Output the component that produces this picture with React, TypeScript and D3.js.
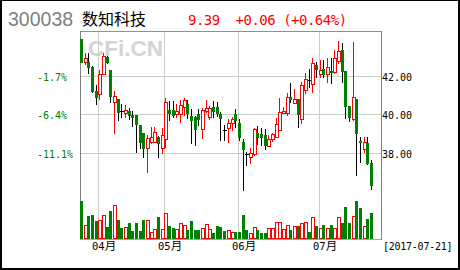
import React from 'react';
import * as d3 from 'd3';

// ---- data ----
const dates = [
  '03-27','03-28','03-29','03-30','03-31',
  '04-05','04-06','04-07','04-10','04-11','04-12','04-13','04-14','04-17','04-18','04-19','04-20','04-21','04-24','04-25','04-26','04-27','04-28',
  '05-02','05-03','05-04','05-05','05-08','05-09','05-10','05-11','05-12','05-15','05-16','05-17','05-18','05-19','05-22','05-23','05-24','05-25','05-26','05-31',
  '06-01','06-02','06-05','06-06','06-07','06-08','06-09','06-12','06-13','06-14','06-15','06-16','06-19','06-20','06-21','06-22','06-23','06-26','06-27','06-28','06-29','06-30',
  '07-03','07-04','07-05','07-06','07-07','07-10','07-11','07-12','07-13','07-14','07-17','07-18','07-19','07-20','07-21',
];
const opens = [
  43.95,42.73,42.73,42.50,41.22,41.05,42.10,43.02,42.32,40.63,
  40.80,40.19,40.06,40.18,39.97,39.97,39.44,39.01,38.22,38.57,
  38.57,38.83,38.22,38.69,40.23,40.23,40.05,40.02,40.40,40.54,
  39.91,39.85,40.02,39.22,40.18,39.85,40.37,40.37,40.02,39.18,
  39.27,39.53,40.02,39.53,38.54,37.92,37.78,37.92,39.01,38.97,
  38.90,38.36,38.69,38.80,39.18,40.07,40.06,40.93,40.61,40.80,
  39.74,41.28,41.80,41.58,42.59,42.10,42.36,42.12,42.30,42.24,
  42.81,43.37,42.27,40.44,39.74,40.80,38.60,38.17,38.51,37.47,
];
const highs = [
  43.95,43.23,43.20,42.52,41.54,42.32,43.20,43.06,42.32,41.22,
  40.80,40.54,40.49,40.33,40.20,39.97,39.44,39.01,38.90,39.35,
  39.35,38.85,39.27,40.84,40.70,40.70,40.55,40.75,40.84,40.75,
  40.27,39.91,40.27,40.32,40.75,40.44,40.70,40.66,40.14,39.44,
  39.74,39.86,40.28,39.74,38.71,38.04,38.22,39.27,39.39,39.27,
  39.22,38.92,39.04,39.79,40.84,40.40,41.10,41.66,41.31,40.80,
  41.71,42.18,42.36,42.97,42.76,42.85,42.85,42.94,42.94,43.37,
  43.84,43.72,42.27,40.44,43.81,40.80,38.83,38.80,38.80,37.61,
];
const lows = [
  42.73,42.62,42.18,41.20,40.55,40.80,42.10,42.70,40.66,39.01,
  39.70,39.85,39.85,39.75,39.40,38.04,38.22,37.75,37.00,38.50,
  38.57,37.78,37.99,38.30,39.70,39.85,39.86,39.62,39.95,39.80,
  38.51,38.39,39.44,38.75,40.12,39.75,39.85,39.91,38.66,38.66,
  38.57,39.18,39.35,38.66,36.04,37.35,37.47,37.87,38.45,38.39,
  38.17,38.36,38.62,38.80,39.18,40.07,39.97,40.66,40.61,39.35,
  39.53,41.10,41.45,41.19,41.97,41.97,41.97,41.71,41.63,42.15,
  42.68,41.71,39.79,39.67,39.70,36.82,37.52,38.04,37.40,36.07,
];
const closes = [
  42.73,42.95,42.50,41.22,40.93,42.10,43.06,42.73,40.96,40.96,
  40.14,40.19,40.23,39.97,39.88,39.50,38.57,38.22,38.75,38.83,
  39.09,38.48,38.92,40.66,40.09,39.97,40.20,40.49,40.75,40.06,
  39.70,39.23,39.74,40.23,40.33,40.32,40.18,40.09,39.79,39.18,
  39.56,39.74,39.70,38.80,38.18,37.92,37.99,39.22,38.80,38.83,
  38.39,38.69,38.97,39.48,40.11,40.18,40.89,40.80,40.80,40.00,
  41.54,41.84,41.80,42.71,42.36,42.32,42.12,42.47,42.22,42.97,
  43.34,42.27,40.44,39.88,40.89,39.04,38.54,38.57,37.47,36.30,
];
const volumes = [
  380,140,230,240,183,190,240,117,280,340,
  190,107,117,163,83,163,83,190,190,73,
  97,217,97,257,130,107,97,163,140,90,
  180,90,90,113,147,97,63,130,123,80,
  90,67,73,73,240,90,63,117,90,63,
  63,107,107,173,173,97,140,90,130,130,
  163,173,73,223,133,107,140,107,140,107,
  223,163,323,157,233,380,307,130,200,263,
];
const priceTicks = [38, 40, 42];
const stockCode = '300038';
const stockName = '数知科技';
const quoteText = '9.39  +0.06 (+0.64%)';
const lastDateText = '[2017-07-21]';
const watermark = 'CFi.CN';

const RED = '#ff0000';
const GREEN = '#008000';
const MONO = "'DejaVu Sans Mono', 'Liberation Mono', monospace";
const CJK = "'Noto Sans CJK SC', sans-serif";

export default function App() {
  const W = 460, H = 270;
  const left = 80, right = 381, top = 31, bottom = 239;
  const slots = 82;
  const x = d3.scaleLinear().domain([0, slots]).range([left, right]);
  const y = d3.scaleLinear().domain([35.7, 44.4]).range([196.5, 30.5]);
  const v = d3.scaleLinear().domain([0, d3.max(volumes) as number]).range([bottom, 201]);
  const base = closes[0];

  const months: { idx: number; label: string }[] = [];
  dates.forEach((d, i) => {
    if (i > 0 && d.slice(0, 2) !== dates[i - 1].slice(0, 2)) months.push({ idx: i, label: d.slice(0, 2) });
  });

  const candles = dates.map((d, i) => {
    const bx = Math.round(x(i));
    const o = opens[i], c = closes[i];
    const up = c > o, flat = c === o;
    const yt = Math.round(y(Math.max(o, c)));
    const yb = Math.round(y(Math.min(o, c)));
    const yh = Math.round(y(highs[i]));
    const yl = Math.round(y(lows[i]));
    const col = flat ? '#000' : up ? RED : '#000';
    return (
      <g key={d}>
        <line x1={bx + 1.5} x2={bx + 1.5} y1={yh} y2={yl + 1} stroke={col} strokeWidth={1} />
        {flat ? (
          <line x1={bx} x2={bx + 4} y1={yt + 0.5} y2={yt + 0.5} stroke="#000" />
        ) : up ? (
          <rect x={bx + 0.5} y={yt + 0.5} width={3} height={Math.max(1, yb - yt)} fill="#fff" stroke={RED} />
        ) : (
          <rect x={bx} y={yt} width={3} height={Math.max(1, yb - yt + 1)} fill={GREEN} />
        )}
      </g>
    );
  });

  const vols = dates.map((d, i) => {
    const bx = Math.round(x(i));
    const up = closes[i] > opens[i];
    const vt = Math.round(v(volumes[i]));
    return up ? (
      <rect key={d} x={bx + 0.5} y={vt + 0.5} width={3} height={bottom - 1 - vt} fill="#fff" stroke={RED} />
    ) : (
      <rect key={d} x={bx} y={vt} width={3} height={bottom - vt} fill={GREEN} />
    );
  });

  return (
    <svg width={W} height={H} style={{ position: 'absolute', left: 0, top: 0, background: '#fff' }}
      shapeRendering="crispEdges">
      <rect x={0} y={0} width={W} height={H} fill="#fff" />
      {/* header */}
      <text x={8} y={26} fontFamily="'Liberation Sans', Arial, sans-serif" fontSize={19.5} fill="#808080">{stockCode}</text>
      <text x={82} y={24.5} fontFamily={CJK} fontSize={16} fill="#000">{stockName}</text>
      <text x={188} y={25} fontFamily={MONO} fontSize={14} letterSpacing={-0.5} fill={RED} style={{ whiteSpace: 'pre' }}>{quoteText}</text>

      {/* watermark */}
      <text x={88} y={56} fontFamily="'Liberation Sans', Arial, sans-serif" fontWeight="bold" fontSize={22.5} fill="#d4d4d4">{watermark}</text>

      {/* grid */}
      {priceTicks.map(t => (
        <line key={'h' + t} x1={left} x2={right + 1} y1={Math.round(y(t)) + 0.5} y2={Math.round(y(t)) + 0.5} stroke="#c8d0c8" />
      ))}
      {months.map(m => (
        <line key={'v' + m.idx} x1={Math.round(x(m.idx)) + 0.5} x2={Math.round(x(m.idx)) + 0.5} y1={top} y2={bottom} stroke="#c8d0c8" />
      ))}

      {/* frame */}
      <line x1={left} x2={right} y1={top + 0.5} y2={top + 0.5} stroke="#909090" />
      <line x1={left + 0.5} x2={left + 0.5} y1={top} y2={bottom + 1} stroke="#808080" />
      <line x1={right + 0.5} x2={right + 0.5} y1={top} y2={bottom + 1} stroke="#808080" />
      <line x1={left} x2={right} y1={bottom + 0.5} y2={bottom + 0.5} stroke="#a0a8a0" />

      {vols}
      {candles}

      {/* axis labels */}
      {priceTicks.map(t => (
        <text key={'r' + t} x={382} y={Math.round(y(t)) + 5} fontFamily={MONO} fontSize={10} fill="#000">{t.toFixed(2)}</text>
      ))}
      {priceTicks.map(t => (
        <text key={'l' + t} x={37} y={Math.round(y(t)) + 5} fontFamily={MONO} fontSize={10} fill={GREEN}>
          {((t / base - 1) * 100).toFixed(1) + '%'}
        </text>
      ))}
      {months.map(m => (
        <text key={'m' + m.idx} x={Math.round(x(m.idx)) - 6} y={250} fontFamily={MONO} fontSize={10.5} fill="#000">
          {m.label}<tspan fontFamily={CJK} fontSize={11.5}>月</tspan>
        </text>
      ))}
      <text x={383} y={250} fontFamily={MONO} fontSize={10} letterSpacing={-0.25} fill="#000">{lastDateText}</text>

      {/* outer border */}
      <line x1={0} x2={W} y1={0.5} y2={0.5} stroke="#000" />
      <line x1={0} x2={W} y1={H - 1} y2={H - 1} stroke="#000" strokeWidth={2} />
      <line x1={1} x2={1} y1={0} y2={H} stroke="#000" strokeWidth={2} />
      <line x1={W - 1} x2={W - 1} y1={0} y2={H} stroke="#000" strokeWidth={2} />
    </svg>
  );
}
